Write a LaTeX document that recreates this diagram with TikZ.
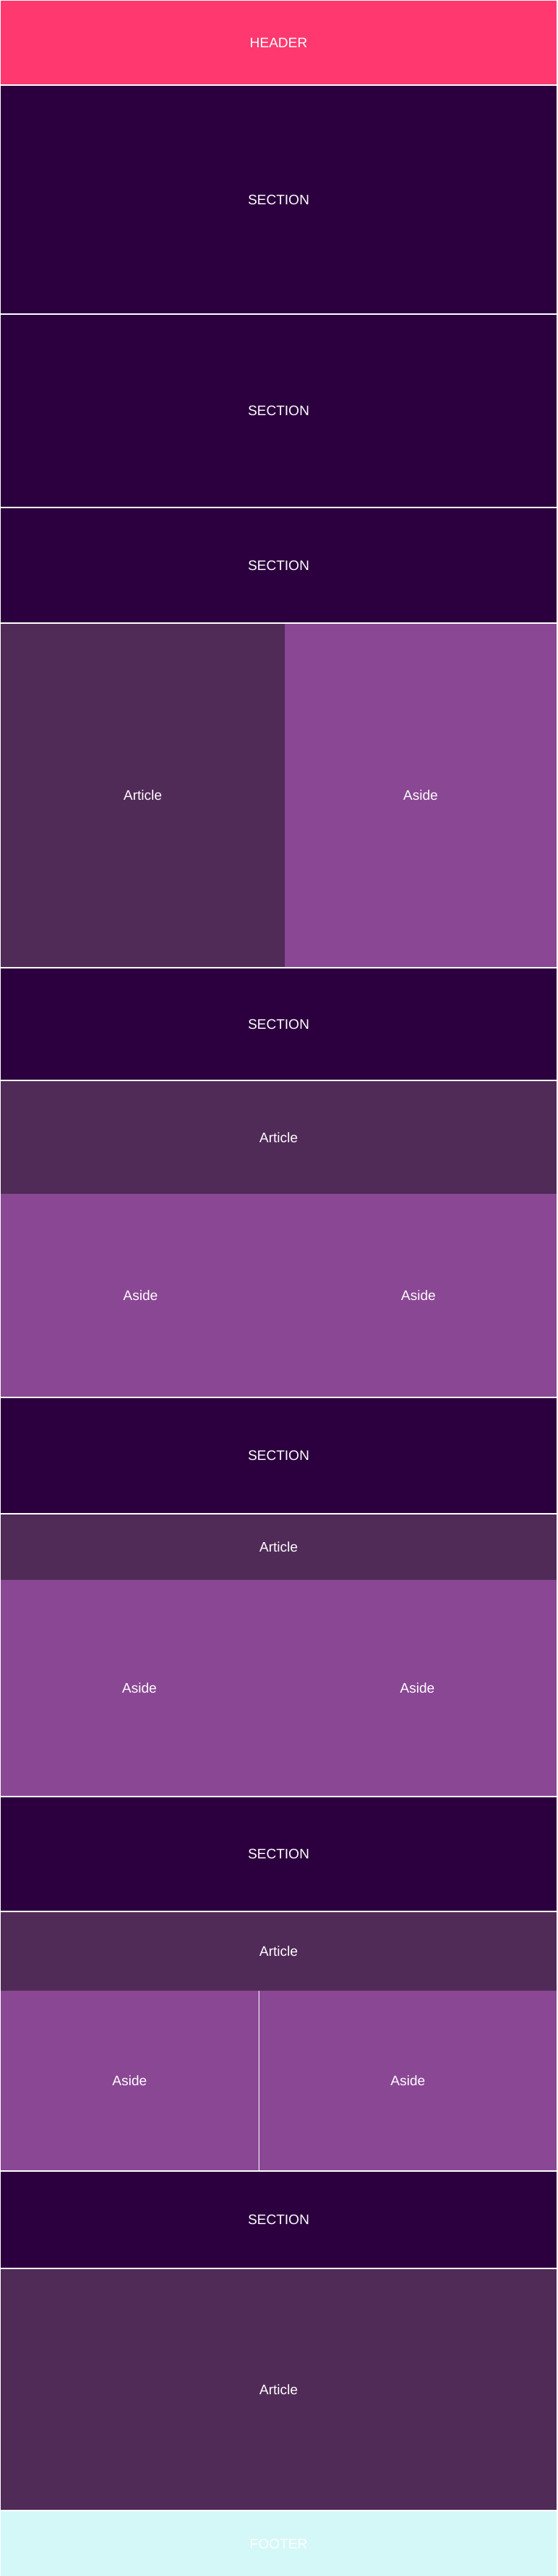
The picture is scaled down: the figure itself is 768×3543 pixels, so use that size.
\documentclass[tikz,border=0pt]{standalone}
\usepackage{fontspec}
\setmainfont{Liberation Sans}
\usepackage{tikz}
\usepackage{xcolor}

\definecolor{headpink}{HTML}{FF386F}
\definecolor{sectdark}{HTML}{2C003E}
\definecolor{artplum}{HTML}{512B58}
\definecolor{asideviolet}{HTML}{8A4794}
\definecolor{footcyan}{HTML}{D4F8F8}

\begin{document}
\begin{tikzpicture}[x=1pt, y=-1pt,
    box/.style={draw=none, inner sep=0pt, outer sep=0pt, anchor=north west,
        text=white, font=\fontsize{19}{23}\selectfont},
    headbox/.style={box, fill=headpink},
    sectbox/.style={box, fill=sectdark},
    artbox/.style={box, fill=artplum},
    asidebox/.style={box, fill=asideviolet},
    footbox/.style={box, fill=footcyan}]
        % name, style, x, y, width, height, text
        \def\block#1#2#3#4#5#6#7{
            \node[#2, minimum width=#5pt, minimum height=#6pt] (#1) at (#3, #4) {#7};
        }

        \fill[white] (0,0) rectangle (768,3543);
        \useasboundingbox (0,0) rectangle (768,3543);

        \block{head}{headbox}{1}{1}{765}{115}{HEADER}
        \block{sectA}{sectbox}{1}{118}{765}{313}{SECTION}
        \block{sectB}{sectbox}{1}{433}{765}{264}{SECTION}
        \block{sectC}{sectbox}{1}{699}{765}{157}{SECTION}

        % article | aside
        \block{artA}{artbox}{1}{858}{391}{472}{Article}
        \block{asideA}{asidebox}{392}{858}{374}{472}{Aside}

        \block{sectD}{sectbox}{1}{1332}{765}{153}{SECTION}
        \block{artB}{artbox}{1}{1487}{765}{155}{Article}
        \block{asideB}{asidebox}{1}{1642}{385}{279}{Aside}
        \block{asideC}{asidebox}{386}{1642}{380}{279}{Aside}

        \block{sectE}{sectbox}{1}{1923}{765}{158}{SECTION}
        \block{artC}{artbox}{1}{2083}{765}{90}{Article}
        \block{asideD}{asidebox}{1}{2173}{382}{297}{Aside}
        \block{asideE}{asidebox}{383}{2173}{383}{297}{Aside}

        \block{sectF}{sectbox}{1}{2472}{765}{156}{SECTION}
        \block{artD}{artbox}{1}{2630}{765}{108}{Article}
        \block{asideF}{asidebox}{1}{2738}{355}{247}{Aside}
        \block{asideG}{asidebox}{357}{2738}{409}{247}{Aside}

        \block{sectG}{sectbox}{1}{2987}{765}{132}{SECTION}
        \block{artE}{artbox}{1}{3121}{765}{331}{Article}
        \block{foot}{footbox}{1}{3454}{765}{89}{FOOTER}
    \end{tikzpicture}
\end{document}
